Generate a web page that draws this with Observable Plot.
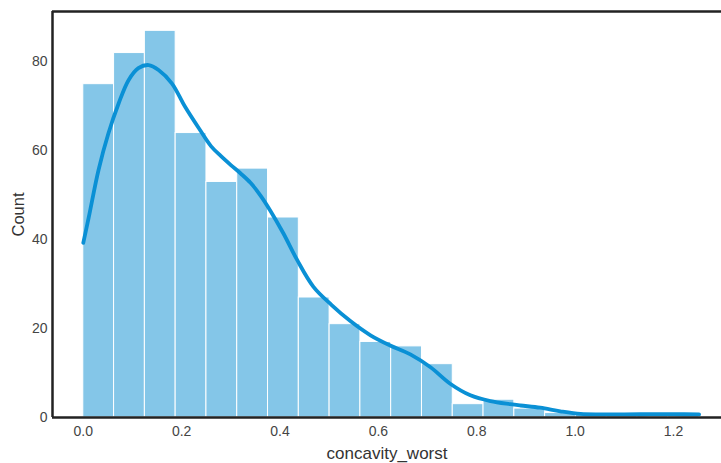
<!DOCTYPE html>
<html>
<head>
<meta charset="utf-8">
<script src="https://cdn.jsdelivr.net/npm/d3@7"></script>
<script src="https://cdn.jsdelivr.net/npm/@observablehq/plot@0.6"></script>
<style>
  html, body { margin: 0; padding: 0; background: #fff; overflow: hidden; }
</style>
</head>
<body>
<div id="chart"></div>
<script>
// Histogram of concavity_worst: 20 equal-width bins from the sample min to max
const binMin = 0;
const binMax = 1.252;
const binCounts = [75, 82, 87, 64, 53, 56, 45, 27, 21, 17, 16, 12, 3, 4, 2, 1, 1, 1, 1, 1];

// Kernel density estimate, scaled to counts
const kdeX = [0, 0.011, 0.031, 0.051, 0.072, 0.092, 0.112, 0.133, 0.153, 0.180, 0.207, 0.236,
              0.260, 0.280, 0.300, 0.320, 0.340, 0.360, 0.380, 0.407, 0.435, 0.468, 0.505,
              0.543, 0.584, 0.624, 0.665, 0.706, 0.746, 0.787, 0.828, 0.868, 0.889, 0.929,
              0.970, 1.011, 1.052, 1.100, 1.150, 1.200, 1.252];
const kdeY = [39.3, 45.0, 55.7, 63.9, 70.7, 75.9, 78.6, 79.3, 78.2, 75.2, 69.9, 64.9,
              61.0, 58.8, 56.8, 54.9, 52.8, 50.0, 46.6, 41.4, 35.4, 29.4, 25.3,
              21.7, 18.5, 16.2, 14.2, 11.3, 7.6, 5.0, 3.7, 3.0, 2.7, 2.2,
              1.4, 0.8, 0.7, 0.7, 0.75, 0.75, 0.7];

const xTicks = [0, 0.2, 0.4, 0.6, 0.8, 1.0, 1.2];
const yTicks = [0, 20, 40, 60, 80];

const binWidth = (binMax - binMin) / binCounts.length;
const bins = binCounts.map((count, i) => ({
  x1: binMin + i * binWidth,
  x2: binMin + (i + 1) * binWidth,
  count
}));
const kde = kdeX.map((x, i) => ({x, y: kdeY[i]}));

// matplotlib-style 5% padding on x, 5% headroom on y; the figure is cropped
// on the right, so the visible x range stops short of the right padding
const xPad = (binMax - binMin) * 0.05;
const xLo = binMin - xPad;
const xHi = 1.2976;
const yMax = d3.max(binCounts) * 1.05;

const spine = {stroke: "#222", strokeWidth: 2.5};

const chart = Plot.plot({
  width: 721,
  height: 463,
  marginLeft: 52,
  marginRight: 0,
  marginTop: 11,
  marginBottom: 46,
  style: {
    fontFamily: "'Liberation Sans', Arial, sans-serif",
    fontSize: "14px",
    color: "#444",
    background: "#fff"
  },
  x: {domain: [xLo, xHi]},
  y: {domain: [0, yMax]},
  marks: [
    Plot.rectY(bins, {x1: "x1", x2: "x2", y: "count", fill: "#84c6e8", stroke: "#fff", strokeWidth: 1}),
    Plot.line(kde, {x: "x", y: "y", curve: "catmull-rom", stroke: "#0a90d5", strokeWidth: 3.8, strokeLinecap: "round"}),
    Plot.axisX({ticks: xTicks, tickFormat: d3.format(".1f"), tickSize: 0, tickPadding: 9, label: null}),
    Plot.axisY({ticks: yTicks, tickSize: 0, tickPadding: 5, label: null}),
    Plot.text(["Count"], {frameAnchor: "left", textAnchor: "middle", dx: -34, rotate: -90, fontSize: 16.5, fill: "#333"}),
    Plot.text(["concavity_worst"], {frameAnchor: "bottom", dy: 41, fontSize: 17, fill: "#333"}),
    // left, top and bottom spines
    Plot.ruleX([xLo], spine),
    Plot.ruleY([0], {...spine, x1: xLo, x2: xHi}),
    Plot.ruleY([yMax], {...spine, x1: xLo, x2: xHi})
  ]
});

document.getElementById("chart").appendChild(chart);
</script>
</body>
</html>
